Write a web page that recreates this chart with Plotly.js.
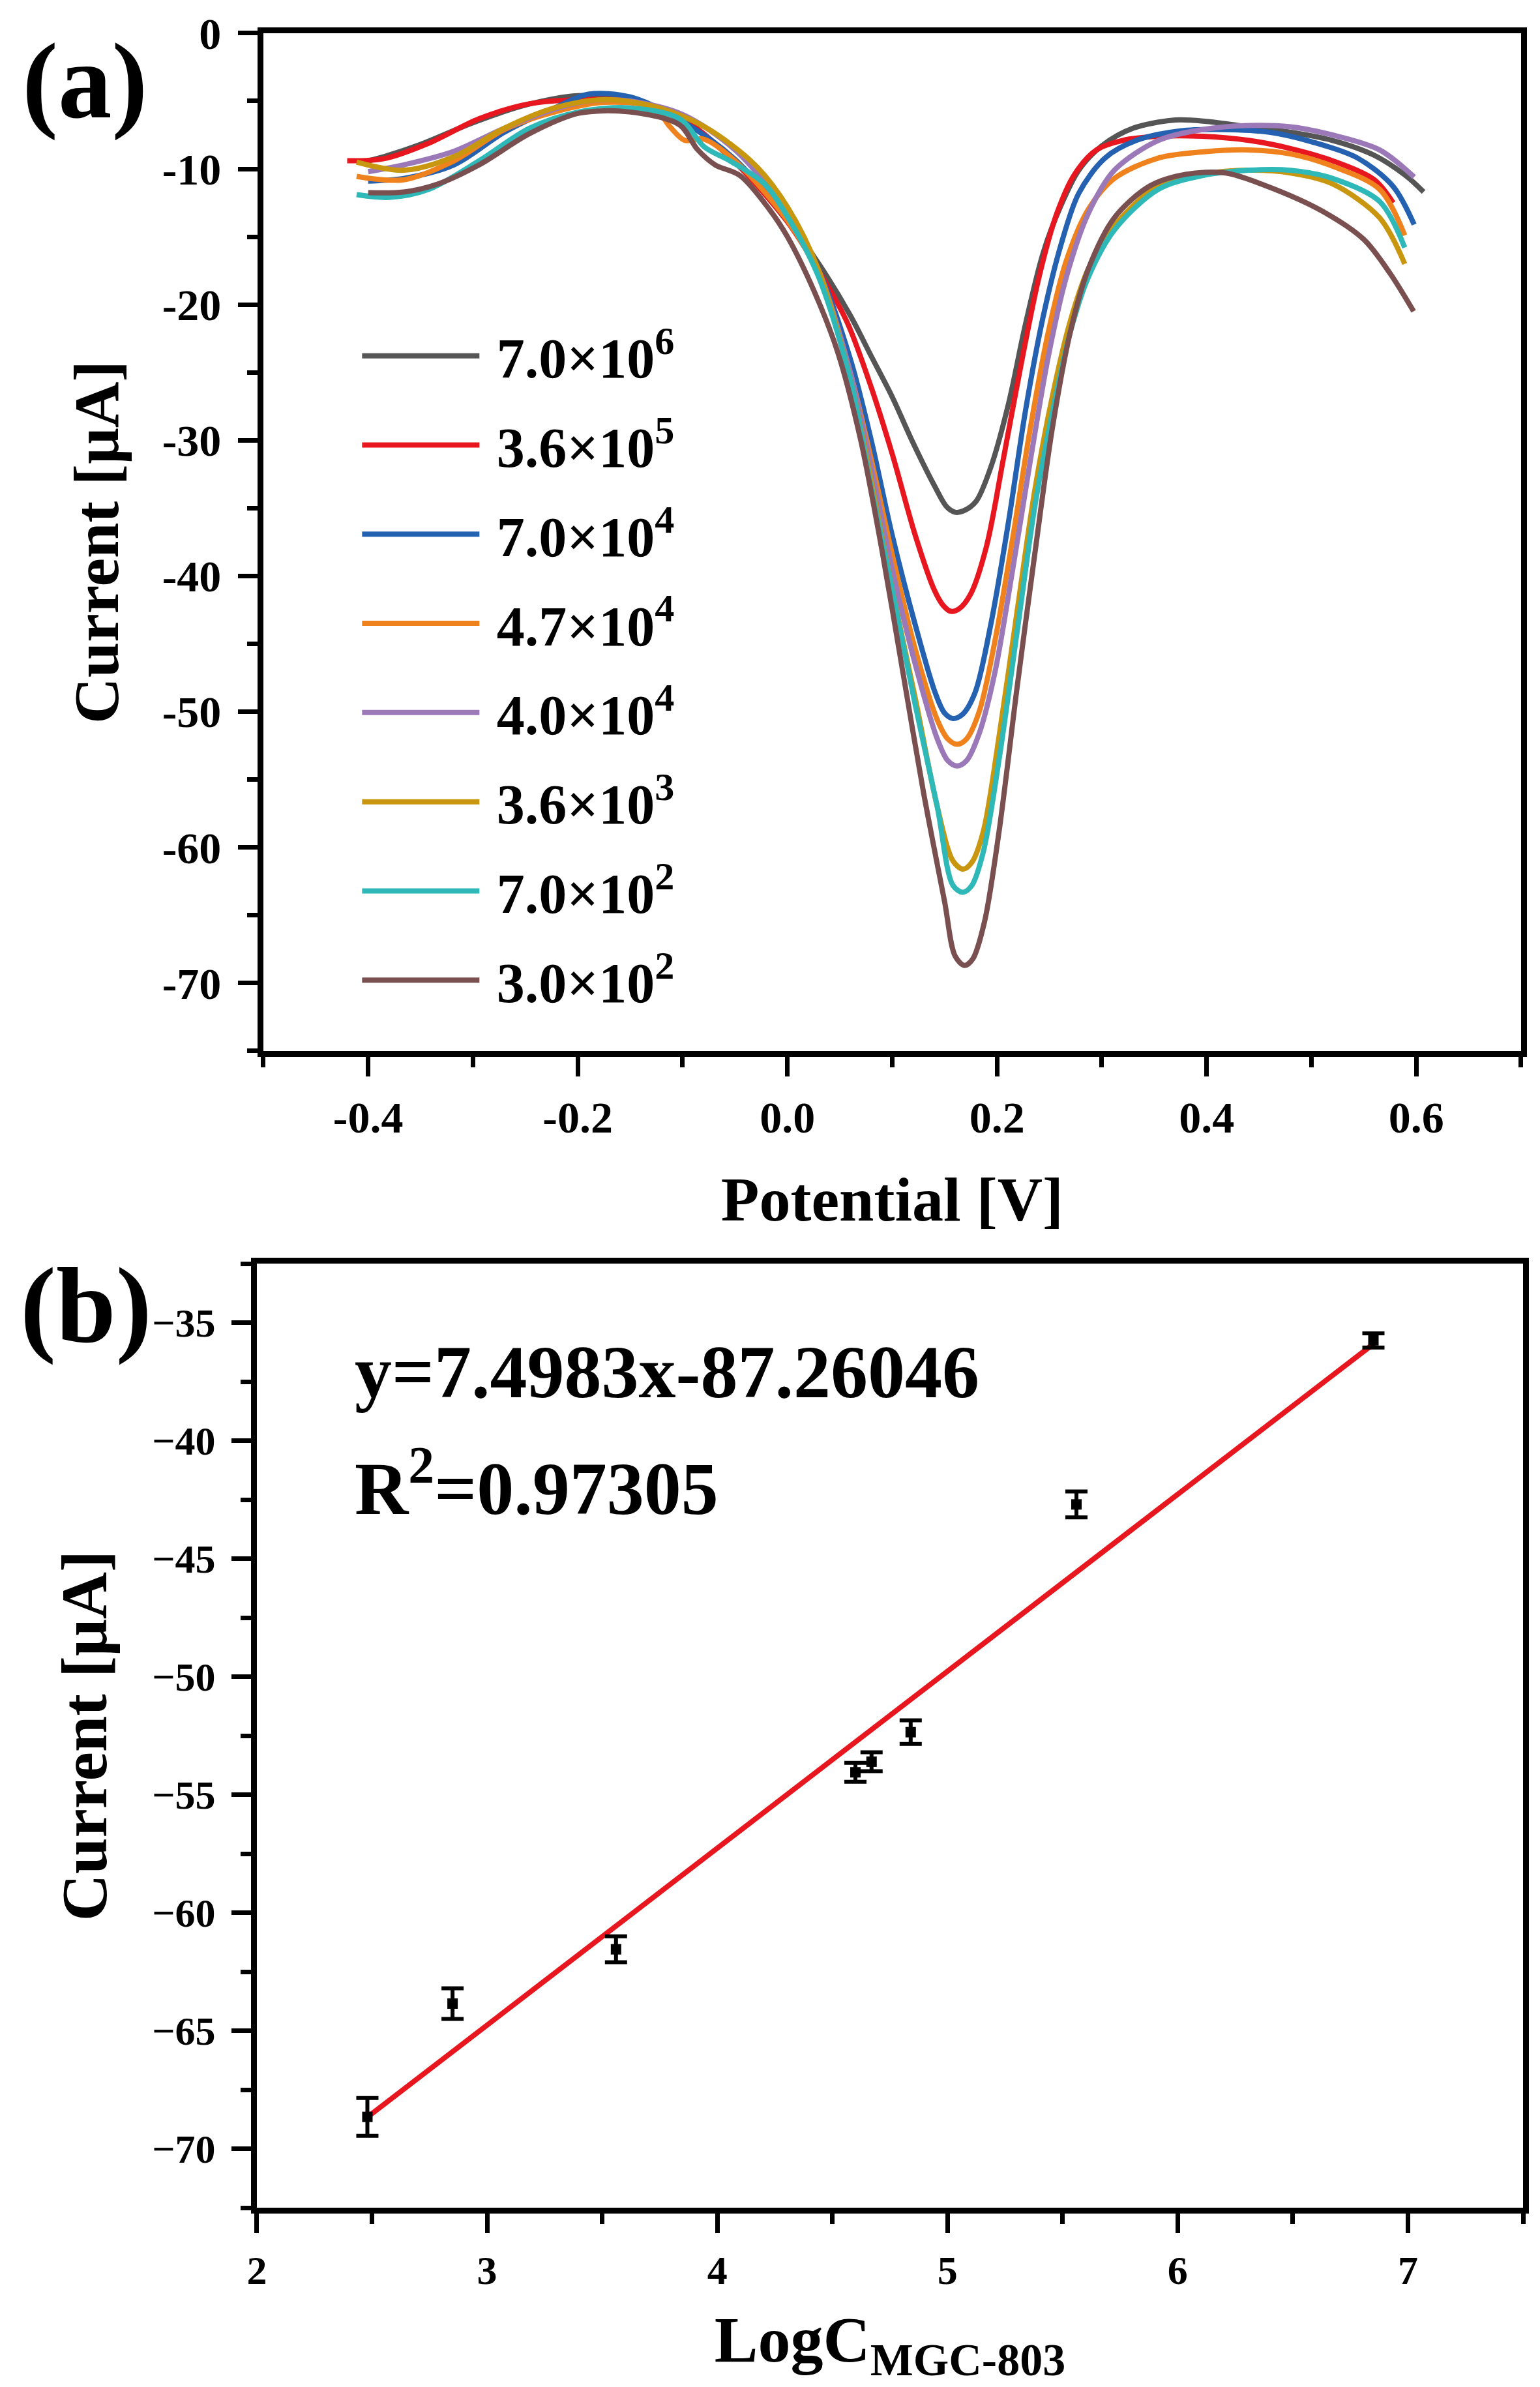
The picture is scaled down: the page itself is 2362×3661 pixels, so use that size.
<!DOCTYPE html>
<html>
<head>
<meta charset="utf-8">
<script src="https://cdn.plot.ly/plotly-3.0.1.min.js"></script>
<style>
  html, body {margin: 0; padding: 0; background: #fff;}
</style>
</head>
<body>
<div id="chartDiv" style="width:2362px;height:3661px;"></div>
<script>
  // ---- panel (a): DPV curves, one per concentration ----
  const seriesNames = ['7.0×10<sup>6</sup>', '3.6×10<sup>5</sup>', '7.0×10<sup>4</sup>', '4.7×10<sup>4</sup>',
                       '4.0×10<sup>4</sup>', '3.6×10<sup>3</sup>', '7.0×10<sup>2</sup>', '3.0×10<sup>2</sup>'];
  const seriesColours = ['#555555', '#e8161e', '#2461b0', '#f0821e', '#9b79b8', '#c8960f', '#2fb8b8', '#7a4f4f'];

  const grayX = [-0.40, -0.385, -0.35, -0.30, -0.25, -0.20, -0.15, -0.10, -0.05, 0.00, 0.03, 0.06, 0.08, 0.10, 0.12, 0.14, 0.152, 0.16, 0.168, 0.18, 0.194, 0.211, 0.227, 0.244, 0.261, 0.278, 0.30, 0.33, 0.37, 0.40, 0.44, 0.48, 0.52, 0.56, 0.59, 0.607];
  const grayY = [-9.4, -9.1, -8.2, -6.6, -5.3, -4.6, -4.9, -6.4, -9.5, -13.8, -17.0, -20.8, -23.8, -26.8, -30.2, -33.3, -34.9, -35.3, -35.2, -34.5, -32.0, -27.3, -21.5, -16.2, -12.7, -10.1, -8.3, -7.0, -6.4, -6.5, -6.9, -7.3, -7.9, -9.0, -10.5, -11.7];

  const redX = [-0.42, -0.385, -0.342, -0.294, -0.246, -0.20, -0.15, -0.10, -0.05, 0.00, 0.03, 0.057, 0.08, 0.10, 0.122, 0.14, 0.149, 0.156, 0.164, 0.175, 0.19, 0.206, 0.223, 0.24, 0.257, 0.274, 0.295, 0.32, 0.354, 0.396, 0.44, 0.48, 0.52, 0.56, 0.578];
  const redY = [-9.4, -9.25, -8.1, -6.3, -5.2, -4.9, -5.0, -6.3, -9.5, -13.9, -17.5, -21.3, -26.1, -31.0, -37.0, -41.0, -42.2, -42.6, -42.4, -41.3, -37.8, -31.4, -24.4, -18.0, -13.3, -10.4, -8.6, -7.9, -7.6, -7.6, -7.9, -8.5, -9.4, -10.8, -12.5];

  const blueX = [-0.40, -0.366, -0.318, -0.27, -0.222, -0.19, -0.15, -0.10, -0.05, 0.00, 0.03, 0.06, 0.08, 0.10, 0.122, 0.141, 0.150, 0.158, 0.167, 0.179, 0.194, 0.211, 0.227, 0.244, 0.261, 0.278, 0.303, 0.333, 0.375, 0.417, 0.46, 0.50, 0.544, 0.578, 0.598];
  const blueY = [-10.9, -10.7, -9.7, -7.3, -5.5, -4.5, -4.7, -6.5, -9.3, -13.8, -17.5, -24.0, -30.0, -37.0, -43.6, -48.6, -50.1, -50.5, -50.2, -48.6, -43.6, -36.0, -27.9, -20.9, -15.6, -11.8, -9.2, -7.9, -7.2, -7.1, -7.3, -8.0, -9.2, -11.3, -14.1];

  const orangeX = [-0.411, -0.366, -0.318, -0.27, -0.222, -0.175, -0.127, -0.112, -0.098, -0.08, -0.05, 0.00, 0.03, 0.06, 0.08, 0.10, 0.122, 0.143, 0.153, 0.162, 0.171, 0.183, 0.198, 0.215, 0.232, 0.249, 0.266, 0.287, 0.312, 0.354, 0.396, 0.44, 0.48, 0.52, 0.565, 0.589];
  const orangeY = [-10.55, -10.8, -9.4, -7.1, -5.8, -5.1, -5.5, -6.9, -7.9, -7.8, -9.4, -13.8, -17.8, -25.0, -31.4, -38.4, -45.4, -50.6, -52.0, -52.4, -52.0, -50.0, -44.8, -37.2, -29.0, -22.0, -16.8, -13.0, -10.7, -9.2, -8.75, -8.6, -8.9, -9.8, -11.5, -14.9];

  const purpleX = [-0.40, -0.366, -0.318, -0.27, -0.222, -0.19, -0.15, -0.10, -0.05, 0.00, 0.03, 0.06, 0.08, 0.10, 0.122, 0.143, 0.153, 0.162, 0.171, 0.183, 0.198, 0.215, 0.232, 0.249, 0.266, 0.287, 0.312, 0.354, 0.396, 0.44, 0.48, 0.52, 0.565, 0.598];
  const purpleY = [-10.2, -9.7, -8.7, -7.0, -5.6, -5.0, -5.0, -6.0, -8.6, -13.2, -17.5, -25.0, -32.0, -39.5, -46.5, -52.0, -53.6, -54.0, -53.6, -51.6, -47.1, -39.5, -31.4, -23.8, -18.0, -13.3, -10.1, -7.9, -7.1, -6.8, -6.9, -7.5, -8.6, -10.6];

  const goldX = [-0.411, -0.366, -0.318, -0.27, -0.222, -0.175, -0.127, -0.079, -0.031, 0.00, 0.03, 0.06, 0.08, 0.10, 0.122, 0.143, 0.158, 0.1675, 0.176, 0.187, 0.202, 0.219, 0.236, 0.253, 0.27, 0.287, 0.312, 0.354, 0.396, 0.44, 0.48, 0.52, 0.565, 0.589];
  const goldY = [-9.5, -10.1, -9.1, -7.0, -5.5, -4.9, -5.4, -6.9, -9.7, -12.8, -17.5, -25.5, -33.0, -41.0, -49.0, -57.0, -61.0, -61.6, -61.1, -58.8, -51.8, -42.7, -33.7, -26.7, -21.2, -17.4, -14.2, -11.25, -10.4, -10.1, -10.3, -11.1, -13.6, -17.0];

  const tealX = [-0.411, -0.38, -0.342, -0.294, -0.246, -0.199, -0.151, -0.103, -0.079, -0.055, -0.022, 0.00, 0.03, 0.06, 0.08, 0.10, 0.122, 0.143, 0.158, 0.1675, 0.176, 0.187, 0.202, 0.219, 0.236, 0.253, 0.27, 0.287, 0.312, 0.354, 0.396, 0.44, 0.48, 0.52, 0.565, 0.589];
  const tealY = [-11.9, -12.1, -11.5, -9.4, -7.0, -5.8, -5.5, -6.3, -8.4, -9.4, -11.1, -13.5, -18.0, -25.5, -33.5, -41.0, -49.5, -57.0, -62.8, -63.3, -62.8, -60.3, -53.5, -44.2, -34.9, -27.9, -22.0, -18.0, -14.5, -11.5, -10.5, -10.1, -10.1, -10.7, -12.4, -15.8];

  const brownX = [-0.40, -0.366, -0.333, -0.294, -0.246, -0.199, -0.151, -0.103, -0.086, -0.069, -0.045, -0.017, 0.00, 0.026, 0.048, 0.07, 0.09, 0.11, 0.13, 0.15, 0.16, 0.169, 0.177, 0.188, 0.202, 0.219, 0.236, 0.253, 0.27, 0.287, 0.312, 0.346, 0.38, 0.418, 0.455, 0.51, 0.55, 0.575, 0.5975];
  const brownY = [-11.75, -11.7, -11.1, -9.7, -7.4, -5.9, -5.8, -6.75, -8.55, -9.7, -10.5, -13.0, -15.0, -19.1, -23.5, -30.0, -38.0, -47.0, -56.0, -64.0, -68.0, -68.7, -68.2, -65.5, -58.8, -48.3, -38.4, -29.0, -22.0, -17.4, -13.6, -11.25, -10.4, -10.3, -11.2, -13.1, -15.2, -17.7, -20.5];

  const curveX = [grayX, redX, blueX, orangeX, purpleX, goldX, tealX, brownX];
  const curveY = [grayY, redY, blueY, orangeY, purpleY, goldY, tealY, brownY];

  const potentialTicks = [-0.4, -0.2, 0.0, 0.2, 0.4, 0.6];
  const potentialText = ['-0.4', '-0.2', '0.0', '0.2', '0.4', '0.6'];
  const currentTicksA = [0, -10, -20, -30, -40, -50, -60, -70];
  const currentTextA = ['0', '-10', '-20', '-30', '-40', '-50', '-60', '-70'];

  // ---- panel (b): peak current vs log concentration ----
  const logC = [2.48, 2.85, 3.56, 4.60, 4.67, 4.84, 5.56, 6.85];
  const peakCurrent = [-68.65, -63.85, -61.55, -54.05, -53.6, -52.35, -42.7, -35.75];
  const peakError = [0.8, 0.65, 0.55, 0.4, 0.4, 0.5, 0.55, 0.3];
  const fitX = [2.48, 6.85];
  const fitY = [-68.66, -35.90];
  const fitText = ['y=7.4983x-87.26046', 'R<sup>2</sup>=0.97305'];

  const serif = 'Liberation Serif, Times New Roman, serif';

  function axisStyle(extra) {
    let base = {
      showline: true,
      mirror: true,
      linecolor: 'black',
      linewidth: 9,
      showgrid: false,
      zeroline: false,
      ticks: 'outside',
      ticklen: 30,
      tickwidth: 7,
      tickcolor: 'black',
      ticklabelstandoff: 12,
      fixedrange: true,
    };
    return Object.assign(base, extra);
  }

  var data = [];

  for (let i = 0 ; i < curveX.length ; i++) {
    data.push({
      x: curveX[i],
      y: curveY[i],
      type: 'scatter',
      mode: 'lines',
      name: '\u00a0' + seriesNames[i],
      legendgroup: 'g' + i,
      line: {color: seriesColours[i], width: 8, shape: 'spline', smoothing: 0.9},
      xaxis: 'x',
      yaxis: 'y',
    });
  }

  data.push({
    x: fitX,
    y: fitY,
    type: 'scatter',
    mode: 'lines',
    showlegend: false,
    line: {color: '#e8161e', width: 8},
    xaxis: 'x2',
    yaxis: 'y2',
  });

  data.push({
    x: logC,
    y: peakCurrent,
    type: 'scatter',
    mode: 'markers',
    showlegend: false,
    marker: {symbol: 'square', size: 16, color: 'black'},
    error_y: {type: 'data', array: peakError, visible: true, color: 'black', thickness: 6, width: 17},
    xaxis: 'x2',
    yaxis: 'y2',
  });

  var layout = {
    width: 2362,
    height: 3661,
    margin: {l: 0, r: 0, t: 0, b: 0},
    paper_bgcolor: 'white',
    plot_bgcolor: 'white',
    font: {family: serif, color: 'black', weight: 'bold'},
    showlegend: true,
    legend: {
      x: 0.233,
      y: 0.868,
      xanchor: 'left',
      yanchor: 'top',
      bgcolor: 'rgba(0,0,0,0)',
      font: {family: serif, size: 86, color: 'black', weight: 'bold'},
      itemwidth: 180,
      tracegroupgap: 22,
    },

    xaxis: axisStyle({
      domain: [0.171, 0.9877],
      anchor: 'y',
      range: [-0.5, 0.7],
      tickvals: potentialTicks,
      ticktext: potentialText,
      ticklabelstandoff: 4,
      tickfont: {family: serif, size: 68, weight: 'bold'},
      minor: {dtick: 0.1, tick0: 0, ticks: 'outside', ticklen: 16, tickwidth: 7, tickcolor: 'black', showgrid: false},
      title: {text: 'Potential [V]', font: {family: serif, size: 96, weight: 'bold'}, standoff: 58},
    }),
    yaxis: axisStyle({
      domain: [0.5597, 0.9861],
      anchor: 'x',
      range: [-75, 0],
      tickvals: currentTicksA,
      ticktext: currentTextA,
      tickfont: {family: serif, size: 68, weight: 'bold'},
      minor: {dtick: 5, tick0: 0, ticks: 'outside', ticklen: 16, tickwidth: 7, tickcolor: 'black', showgrid: false},
      title: {text: 'Current [μA]', font: {family: serif, size: 98, weight: 'bold'}, standoff: 38},
    }),

    xaxis2: axisStyle({
      domain: [0.1668, 0.989],
      anchor: 'y2',
      range: [2, 7.5],
      dtick: 1,
      tick0: 0,
      ticklabelstandoff: 4,
      tickfont: {family: serif, size: 62, weight: 'bold'},
      minor: {dtick: 0.5, tick0: 0, ticks: 'outside', ticklen: 16, tickwidth: 7, tickcolor: 'black', showgrid: false},
      title: {text: 'LogC<sub>MGC-803</sub>', font: {family: serif, size: 100, weight: 'bold'}, standoff: 40},
    }),
    yaxis2: axisStyle({
      domain: [0.0751, 0.4706],
      anchor: 'x2',
      range: [-72.5, -32.5],
      dtick: 5,
      tick0: 0,
      tickfont: {family: serif, size: 62, weight: 'bold'},
      minor: {dtick: 2.5, tick0: 0, ticks: 'outside', ticklen: 16, tickwidth: 7, tickcolor: 'black', showgrid: false},
      title: {text: 'Current [μA]', font: {family: serif, size: 100, weight: 'bold'}, standoff: 40},
    }),

    annotations: [
      {text: '(a)', xref: 'paper', yref: 'paper', x: 0.055, y: 0.966, xanchor: 'center', yanchor: 'middle',
       showarrow: false, font: {family: serif, size: 165, weight: 'bold'}},
      {text: '(b)', xref: 'paper', yref: 'paper', x: 0.056, y: 0.453, xanchor: 'center', yanchor: 'middle',
       showarrow: false, font: {family: serif, size: 165, weight: 'bold'}},
      {text: fitText[0], xref: 'x2', yref: 'y2', x: 2.42, y: -37.1, xanchor: 'left', yanchor: 'middle',
       showarrow: false, font: {family: serif, size: 114, weight: 'bold'}},
      {text: fitText[1], xref: 'x2', yref: 'y2', x: 2.42, y: -41.8, xanchor: 'left', yanchor: 'middle',
       showarrow: false, font: {family: serif, size: 114, weight: 'bold'}},
    ],
  };

  Plotly.newPlot('chartDiv', data, layout, {displayModeBar: false, staticPlot: true});
</script>
</body>
</html>
